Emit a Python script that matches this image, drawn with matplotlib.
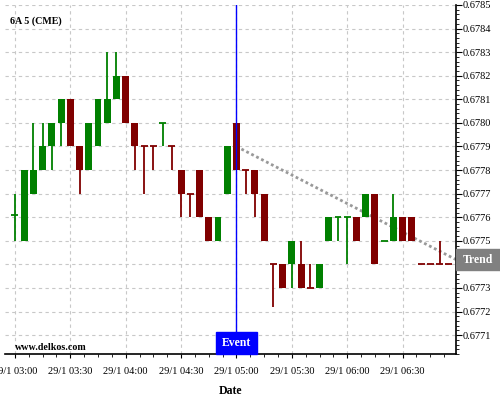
import numpy as np
import pandas as pd
import matplotlib
matplotlib.use("Agg")
import matplotlib.pyplot as plt
import matplotlib.dates as mdates
from matplotlib.patches import Rectangle
from matplotlib.transforms import blended_transform_factory
from matplotlib.ticker import MultipleLocator, FuncFormatter

plt.rcParams['font.family'] = ['Liberation Serif', 'DejaVu Serif']

# 5-minute candles, 29/1 03:00 - 06:55
times = pd.date_range("2016-01-29 03:00", periods=48, freq="5min")
opens = [0.677605, 0.6775, 0.6777, 0.6778, 0.6779, 0.6780, 0.6781, 0.6779,
         0.6778, 0.6779, 0.6780, 0.6781, 0.6782, 0.6780, 0.677905, 0.677905,
         0.677995, 0.677905, 0.6778, 0.677705, 0.6778, 0.6776, 0.6775, 0.6777,
         0.6780, 0.677805, 0.6778, 0.6777, 0.677405, 0.6774, 0.6774, 0.6774,
         0.677305, 0.6773, 0.6775, 0.677595, 0.677595, 0.6776, 0.6776, 0.6777,
         0.677495, 0.6775, 0.6776, 0.6776, 0.677405, 0.677405, 0.677405, 0.677405]
highs = [0.6777, 0.6778, 0.6780, 0.6780, 0.6780, 0.6781, 0.6781, 0.6779,
         0.6780, 0.6781, 0.6783, 0.6783, 0.6782, 0.6780, 0.6779, 0.6779,
         0.6780, 0.6779, 0.6778, 0.6777, 0.6778, 0.6776, 0.6776, 0.6779,
         0.6780, 0.6778, 0.6778, 0.6777, 0.6774, 0.6774, 0.6775, 0.6775,
         0.6774, 0.6774, 0.6776, 0.6776, 0.6776, 0.6776, 0.6777, 0.6777,
         0.6775, 0.6777, 0.6776, 0.6776, 0.6774, 0.6774, 0.6775, 0.6774]
lows = [0.6775, 0.6775, 0.6777, 0.6778, 0.6778, 0.6779, 0.6779, 0.6777,
        0.6778, 0.6779, 0.6780, 0.6781, 0.6780, 0.6778, 0.6777, 0.6778,
        0.6779, 0.6778, 0.6776, 0.6776, 0.6776, 0.6775, 0.6775, 0.6777,
        0.6778, 0.6777, 0.6776, 0.6775, 0.67722, 0.6773, 0.6773, 0.6773,
        0.6773, 0.6773, 0.6775, 0.6775, 0.6774, 0.6775, 0.6776, 0.6774,
        0.6775, 0.6775, 0.6775, 0.6775, 0.6774, 0.6774, 0.6774, 0.6774]
closes = [0.67761, 0.6778, 0.6778, 0.6779, 0.6780, 0.6781, 0.6779, 0.6778,
          0.6780, 0.6781, 0.6781, 0.6782, 0.6780, 0.6779, 0.6779, 0.6779,
          0.6780, 0.6779, 0.6777, 0.6777, 0.6776, 0.6775, 0.6776, 0.6779,
          0.6778, 0.6778, 0.6777, 0.6775, 0.6774, 0.6773, 0.6775, 0.6773,
          0.6773, 0.6774, 0.6776, 0.6776, 0.6776, 0.6775, 0.6777, 0.6774,
          0.6775, 0.6776, 0.6775, 0.6775, 0.6774, 0.6774, 0.6774, 0.6774]

trend_times = pd.to_datetime(["2016-01-29 05:00", "2016-01-29 06:59"])
trend_vals = [0.6779, 0.67742]
event_time = pd.Timestamp("2016-01-29 05:00")

green = '#008000'
red = '#800000'

fig = plt.figure(figsize=(5, 4), dpi=100)
ax = fig.add_axes([0.01, 0.115, 0.902, 0.8725])

x = mdates.date2num(times)
step = 5 / 1440
w = 0.75 * step

for xi, o, h, l, c in zip(x, opens, highs, lows, closes):
    col = green if c >= o else red
    ax.vlines(xi, l, h, color=col, linewidth=1.3, zorder=2)
    if abs(c - o) < 0.00002:
        ax.hlines(c, xi - w / 2, xi + w / 2, color=col, linewidth=1.3, zorder=3)
    else:
        ax.bar(xi, abs(c - o), width=w, bottom=min(o, c), color=col, zorder=3)

ax.plot(mdates.date2num(trend_times), trend_vals, color='#999999',
        linewidth=2, linestyle=(0, (1, 1)), zorder=1)

ex = mdates.date2num(event_time)
ax.axvline(ex, color='#0000ff', linewidth=1, zorder=5)

ax.set_xlim(mdates.date2num(pd.Timestamp("2016-01-29 02:54:38")),
            mdates.date2num(pd.Timestamp("2016-01-29 06:58:55")))
ax.set_ylim(0.67702, 0.6785)


def price_label(v, p):
    # the Trend box sits over this level on the price axis
    if abs(v - round(trend_vals[-1], 4)) < 1e-8:
        return ''
    return f"{v:.4f}"


ax.xaxis.set_major_locator(mdates.MinuteLocator(byminute=[0, 30]))
ax.xaxis.set_minor_locator(MultipleLocator(7.5 / 1440))
ax.xaxis.set_major_formatter(FuncFormatter(
    lambda v, p: (lambda d: f"{d.day}/{d.month} {d:%H:%M}")(mdates.num2date(v))))
ax.yaxis.set_major_locator(MultipleLocator(0.0001))
ax.yaxis.set_minor_locator(MultipleLocator(0.00002))
ax.yaxis.set_major_formatter(FuncFormatter(price_label))
ax.yaxis.tick_right()

ax.tick_params(axis='x', which='major', direction='out', length=3, width=0.8,
               labelsize=7.5, pad=6)
ax.tick_params(axis='x', which='minor', direction='out', length=2, width=0.6)
ax.tick_params(axis='y', which='major', direction='out', length=4, width=0.8,
               labelsize=7.5, pad=1)
ax.tick_params(axis='y', which='minor', direction='out', length=2, width=0.6)

for s in ['top', 'left']:
    ax.spines[s].set_visible(False)
for s in ['bottom', 'right']:
    ax.spines[s].set_linewidth(1.2)

ax.grid(True, which='major', color='#c8c8c8', linestyle=(0, (3, 3)), linewidth=0.8)
ax.set_axisbelow(True)

ax.set_xlabel('Date', fontsize=8.5, fontweight='bold', labelpad=7)

# Event label at the bottom
tb = blended_transform_factory(ax.transData, ax.transAxes)
ax.add_patch(Rectangle((ex - 11 / 1440, 0), 22 / 1440, 0.063, transform=tb,
                       color='#0000ff', zorder=6, clip_on=False))
ax.text(ex, 0.0315, 'Event', transform=tb, color='white', fontsize=8.5,
        fontweight='bold', ha='center', va='center', zorder=7)

# Trend label on the price axis
ty = blended_transform_factory(ax.transAxes, ax.transData)
ax.add_patch(Rectangle((1.0, trend_vals[-1] - 0.0000445), 0.0976, 0.000089,
                       transform=ty, color='#808080', zorder=6, clip_on=False))
ax.text(1.0488, trend_vals[-1], 'Trend', transform=ty, color='white',
        fontsize=8.5, fontweight='bold', ha='center', va='center', zorder=7)

fig.text(0.02, 1 - 20.7 / 400, '6A 5 (CME)', fontsize=7.2, fontweight='bold',
         va='center', ha='left')
fig.text(0.03, 1 - 348 / 400, 'www.delkos.com', fontsize=7.2, fontweight='bold',
         va='center', ha='left')

fig.savefig('out.png', dpi=100)
